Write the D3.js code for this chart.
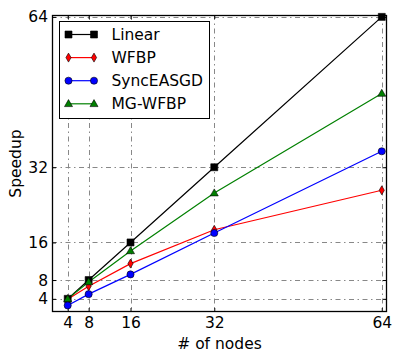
<!DOCTYPE html>
<html>
<head>
<meta charset="utf-8">
<script src="https://cdn.jsdelivr.net/npm/d3@7"></script>
<style>
  html, body { margin: 0; padding: 0; background: #fff; }
  svg { display: block; font-family: "DejaVu Sans", sans-serif; }
</style>
</head>
<body>
<svg id="chart" width="399" height="359"></svg>
<script>
const nodes = [4, 8, 16, 32, 64];
const linear = [4, 8, 16, 32, 64];
const wfbp = [3.9, 6.7, 11.5, 18.7, 27.1];
const syncEASGD = [2.6, 5.0, 9.2, 18.0, 35.4];
const mgWfbp = [4.0, 7.6, 14.2, 26.5, 47.7];
const xTicks = [4, 8, 16, 32, 64];
const yTicks = [4, 8, 16, 32, 64];
const seriesNames = ["Linear", "WFBP", "SyncEASGD", "MG-WFBP"];
const seriesColors = ["#000000", "#ff0000", "#0000ff", "#008000"];
const seriesMarkers = ["square", "thinDiamond", "circle", "triangle"];

const series = [linear, wfbp, syncEASGD, mgWfbp].map((vals, i) => ({
  name: seriesNames[i], color: seriesColors[i], marker: seriesMarkers[i],
  points: vals.map((v, j) => ({ x: nodes[j], y: v }))
}));

const L = 52, R = 387, T = 15, B = 312;
const svg = d3.select("#chart");
const x = d3.scaleLinear().domain([1, 65]).range([L, R]);
const y = d3.scaleLinear().domain([1.2, 64.4]).range([B, T]);

// grid
const grid = svg.append("g").attr("stroke", "#888").attr("stroke-width", 1)
  .attr("stroke-dasharray", "5,3.5,1.5,3.5").attr("fill", "none");
xTicks.forEach(t => grid.append("line").attr("x1", Math.round(x(t)) + 0.5).attr("x2", Math.round(x(t)) + 0.5).attr("y1", T).attr("y2", B));
yTicks.forEach(t => grid.append("line").attr("y1", Math.round(y(t)) + 0.5).attr("y2", Math.round(y(t)) + 0.5).attr("x1", L).attr("x2", R));

// axes with inward ticks
const xAxis = d3.axisBottom(x).tickValues(xTicks).tickSizeInner(-4).tickSizeOuter(0).tickPadding(5);
const yAxis = d3.axisLeft(y).tickValues(yTicks).tickSizeInner(-4).tickSizeOuter(0).tickPadding(4);
const gx = svg.append("g").attr("transform", `translate(0,${B})`).call(xAxis);
const gy = svg.append("g").attr("transform", `translate(${L},0)`).call(yAxis);
[gx, gy].forEach(g => {
  g.select(".domain").remove();
  g.selectAll("text").attr("font-size", 15.5).attr("font-family", "DejaVu Sans").attr("fill", "#000");
  g.selectAll("line").attr("stroke", "#000");
});
gx.selectAll("text").attr("dy", "0.71em");
// top / right inward ticks
const gxt = svg.append("g").attr("transform", `translate(0,${T})`).call(d3.axisTop(x).tickValues(xTicks).tickSizeInner(-4).tickSizeOuter(0).tickFormat(""));
const gyr = svg.append("g").attr("transform", `translate(${R},0)`).call(d3.axisRight(y).tickValues(yTicks).tickSizeInner(-4).tickSizeOuter(0).tickFormat(""));
[gxt, gyr].forEach(g => { g.select(".domain").remove(); g.selectAll("line").attr("stroke", "#000"); });

// lines and markers
const line = d3.line().x(d => x(d.x)).y(d => y(d.y));
const symbolFor = m => {
  if (m === "square") return d3.symbol().type(d3.symbolSquare).size(49)();
  if (m === "circle") return d3.symbol().type(d3.symbolCircle).size(40)();
  if (m === "triangle") return "M0,-4.2L4,2.8L-4,2.8Z";
  return "M0,-4.5L2.6,0L0,4.5L-2.6,0Z";
};
series.forEach(s => {
  svg.append("path").datum(s.points).attr("d", line).attr("fill", "none")
    .attr("stroke", s.color).attr("stroke-width", 1.2);
});
series.forEach(s => {
  svg.append("g").selectAll("path").data(s.points).join("path")
    .attr("transform", d => `translate(${x(d.x)},${y(d.y)})`)
    .attr("d", symbolFor(s.marker))
    .attr("fill", s.color).attr("stroke", "#000").attr("stroke-width", 0.6);
});

// frame
svg.append("rect").attr("x", L + 0.5).attr("y", T + 0.5).attr("width", R - L - 1).attr("height", B - T - 1)
  .attr("fill", "none").attr("stroke", "#000").attr("stroke-width", 1.3);

// axis labels
svg.append("text").attr("x", (L + R) / 2).attr("y", 349).attr("text-anchor", "middle")
  .attr("font-size", 15.5).text("# of nodes");
svg.append("text").attr("transform", `translate(21,${(T + B) / 2}) rotate(-90)`).attr("text-anchor", "middle")
  .attr("font-size", 15.5).text("Speedup");

// legend
const lg = svg.append("g");
lg.append("rect").attr("x", 59.5).attr("y", 21.5).attr("width", 150).attr("height", 97)
  .attr("fill", "#fff").attr("stroke", "#000").attr("stroke-width", 1);
series.forEach((s, i) => {
  const cy = 34.5 + i * 23.1;
  lg.append("line").attr("x1", 68.5).attr("x2", 94).attr("y1", cy).attr("y2", cy)
    .attr("stroke", s.color).attr("stroke-width", 1.2);
  [68.5, 94].forEach(px => lg.append("path").attr("transform", `translate(${px},${cy})`)
    .attr("d", symbolFor(s.marker)).attr("fill", s.color).attr("stroke", "#000").attr("stroke-width", 0.6));
  lg.append("text").attr("x", 111.5).attr("y", cy).attr("dy", "0.36em").attr("font-size", 15.5).text(s.name);
});
</script>
</body>
</html>
